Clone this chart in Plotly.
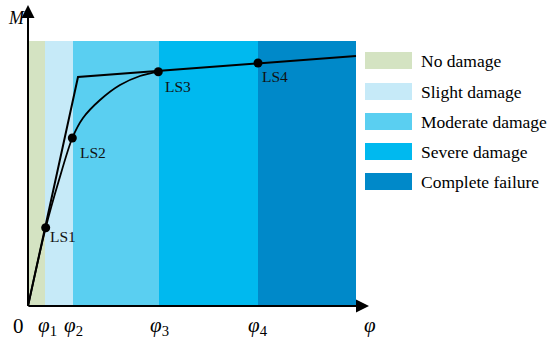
import plotly.graph_objects as go

# Damage state bands (phi boundaries)
band_edges = [0, 17, 45, 131, 230, 328]
band_top = 265
band_names = ["No damage", "Slight damage", "Moderate damage", "Severe damage", "Complete failure"]
band_colors = ["#d4e3c2", "#c6eaf8", "#5acff1", "#00b9ef", "#0089c9"]

# Idealized bilinear curve
bilinear_x = [0, 50, 328]
bilinear_y = [0, 229, 250]

# Actual moment-curvature curve
curve_x = [0, 17.7, 31, 44.3, 55, 72, 92, 112, 130.3]
curve_y = [0, 78.3, 126, 168, 188, 206, 221, 230, 234.3]

# Limit states
ls_names = ["LS1", "LS2", "LS3", "LS4"]
ls_x = [17.7, 44.3, 130.3, 230]
ls_y = [78.3, 168, 234.3, 243]

tick_labels = ["0", "<i>φ</i><sub>1</sub>", "<i>φ</i><sub>2</sub>", "<i>φ</i><sub>3</sub>", "<i>φ</i><sub>4</sub>"]
tick_pos = [-10, 19, 45, 131, 230]

FONT = "Liberation Serif"

fig = go.Figure()

mids = [(band_edges[i] + band_edges[i + 1]) / 2 for i in range(len(band_names))]
widths = [band_edges[i + 1] - band_edges[i] for i in range(len(band_names))]
fig.add_trace(go.Bar(x=mids, y=[band_top] * len(mids), width=widths,
                     marker=dict(color=band_colors, line=dict(width=0)),
                     showlegend=False, hoverinfo="skip"))

fig.add_trace(go.Scatter(x=bilinear_x, y=bilinear_y, mode="lines",
                         line=dict(color="black", width=2), showlegend=False))
fig.add_trace(go.Scatter(x=curve_x, y=curve_y, mode="lines",
                         line=dict(color="black", width=1.8, shape="spline", smoothing=0.8),
                         showlegend=False))
fig.add_trace(go.Scatter(x=ls_x, y=ls_y, mode="markers",
                         marker=dict(color="black", size=9), showlegend=False))

annotations = []
ls_offsets = [(17, -9), (21, -14), (20, -15), (17, -13)]
for name, x, y, (dx, dy) in zip(ls_names, ls_x, ls_y, ls_offsets):
    annotations.append(dict(x=x, y=y, xref="x", yref="y", text=name, showarrow=False,
                            xshift=dx, yshift=dy,
                            font=dict(family=FONT, size=15.5, color="#111")))

# Axes arrows
annotations.append(dict(x=0, y=301, ax=0, ay=-1, xref="x", yref="y", axref="x", ayref="y",
                        showarrow=True, arrowhead=2, arrowsize=1.3, arrowwidth=2,
                        arrowcolor="black", text="", standoff=0, startstandoff=0))
annotations.append(dict(x=341, y=0, ax=-1, ay=0, xref="x", yref="y", axref="x", ayref="y",
                        showarrow=True, arrowhead=2, arrowsize=1.3, arrowwidth=2,
                        arrowcolor="black", text="", standoff=0, startstandoff=0))

# Axis labels
annotations.append(dict(x=-12, y=288, xref="x", yref="y", text="<i>M</i>", showarrow=False,
                        font=dict(family=FONT, size=18, color="black")))
annotations.append(dict(x=342, y=-19, xref="x", yref="y", text="<i>φ</i>", showarrow=False,
                        font=dict(family=FONT, size=21, color="black")))
for t, p in zip(tick_labels, tick_pos):
    annotations.append(dict(x=p, y=-20, xref="x", yref="y", text=t, showarrow=False,
                            font=dict(family=FONT, size=21, color="black")))

# Custom legend
shapes = []
leg_top = [254, 223, 193, 163, 133]
for name, col, top in zip(band_names, band_colors, leg_top):
    shapes.append(dict(type="rect", xref="x", yref="y", x0=337, x1=384, y0=top - 17, y1=top,
                       fillcolor=col, line=dict(width=0), layer="below"))
    annotations.append(dict(x=391, y=top - 8.5, xref="x", yref="y", text=name, showarrow=False,
                            xanchor="left", yanchor="middle",
                            font=dict(family=FONT, size=17.5, color="black")))

fig.update_layout(
    width=550, height=341, margin=dict(l=0, r=0, t=0, b=0),
    plot_bgcolor="white", paper_bgcolor="white",
    xaxis=dict(range=[-28, 522], visible=False, fixedrange=True),
    yaxis=dict(range=[-35, 306], visible=False, fixedrange=True),
    annotations=annotations, shapes=shapes, bargap=0, showlegend=False,
)

fig.write_html("out.html", config={"displayModeBar": False},
               post_script="document.body.style.margin='0';document.body.style.padding='0';")
